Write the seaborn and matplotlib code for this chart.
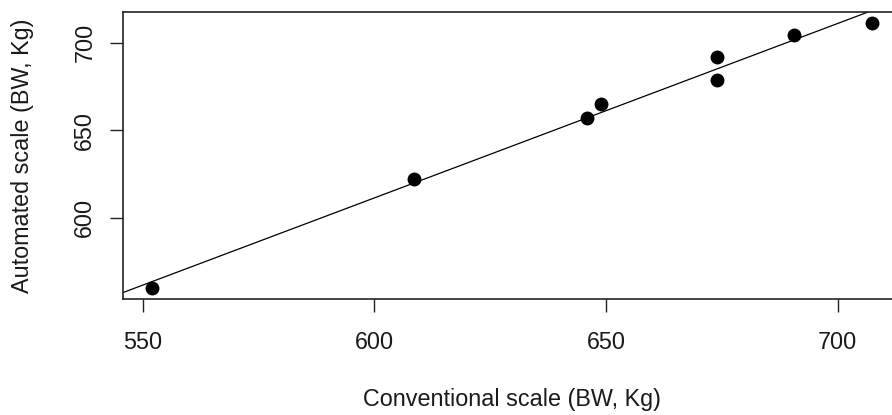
import matplotlib
matplotlib.use("Agg")
import numpy as np
import pandas as pd
import seaborn as sns
import matplotlib.pyplot as plt

# Data
conventional = [552, 608.5, 646, 649, 674, 674, 690.5, 707.5]
automated = [560, 622, 657, 665, 692, 679, 704.5, 711.5]
x_ticks = [550, 600, 650, 700]
y_ticks = [600, 650, 700]
x_label = "Conventional scale (BW, Kg)"
y_label = "Automated scale (BW, Kg)"

sns.set_style("white")
plt.rcParams['font.family'] = ['Liberation Sans', 'DejaVu Sans']
TXT = '#1a1a1a'

df = pd.DataFrame({"conv": conventional, "auto": automated})

fig = plt.figure(figsize=(8.92, 4.15), dpi=100)
ax = fig.add_axes([0.1382, 0.2807, 0.872, 0.6904])

sns.scatterplot(data=df, x="conv", y="auto", color="black", s=100,
                edgecolor="black", linewidth=0, ax=ax, zorder=3)

slope, intercept = np.polyfit(conventional, automated, 1)
ax.axline((0, intercept), slope=slope, color="black", lw=0.9, zorder=2)

# R-style 4% range extension
xr = max(conventional) - min(conventional)
yr = max(automated) - min(automated)
ax.set_xlim(min(conventional) - 0.04 * xr, max(conventional) + 0.04 * xr)
ax.set_ylim(min(automated) - 0.04 * yr, max(automated) + 0.04 * yr)

ax.set_xticks(x_ticks)
ax.set_yticks(y_ticks)
ax.set_xticklabels([str(v) for v in x_ticks])
ax.set_yticklabels([str(v) for v in y_ticks])
ax.tick_params(axis='both', direction='out', length=9.4, width=1.0,
               color='#222222', labelsize=16.8, labelcolor=TXT,
               bottom=True, left=True, top=False, right=False)
ax.tick_params(axis='x', pad=14)
ax.tick_params(axis='y', pad=10)
plt.setp(ax.get_yticklabels(), rotation=90, va='center', ha='right')

for sp in ax.spines.values():
    sp.set_visible(True)
    sp.set_color('#222222')
    sp.set_linewidth(1.2)

ax.set_xlabel(x_label, fontsize=16.8, color=TXT, va='center')
ax.xaxis.set_label_coords(0.5, -0.354)
ax.set_ylabel(y_label, fontsize=16.8, color=TXT, va='center', ha='center')
ax.yaxis.set_label_coords(-0.129, 0.5)

fig.savefig("out.png", dpi=100)
